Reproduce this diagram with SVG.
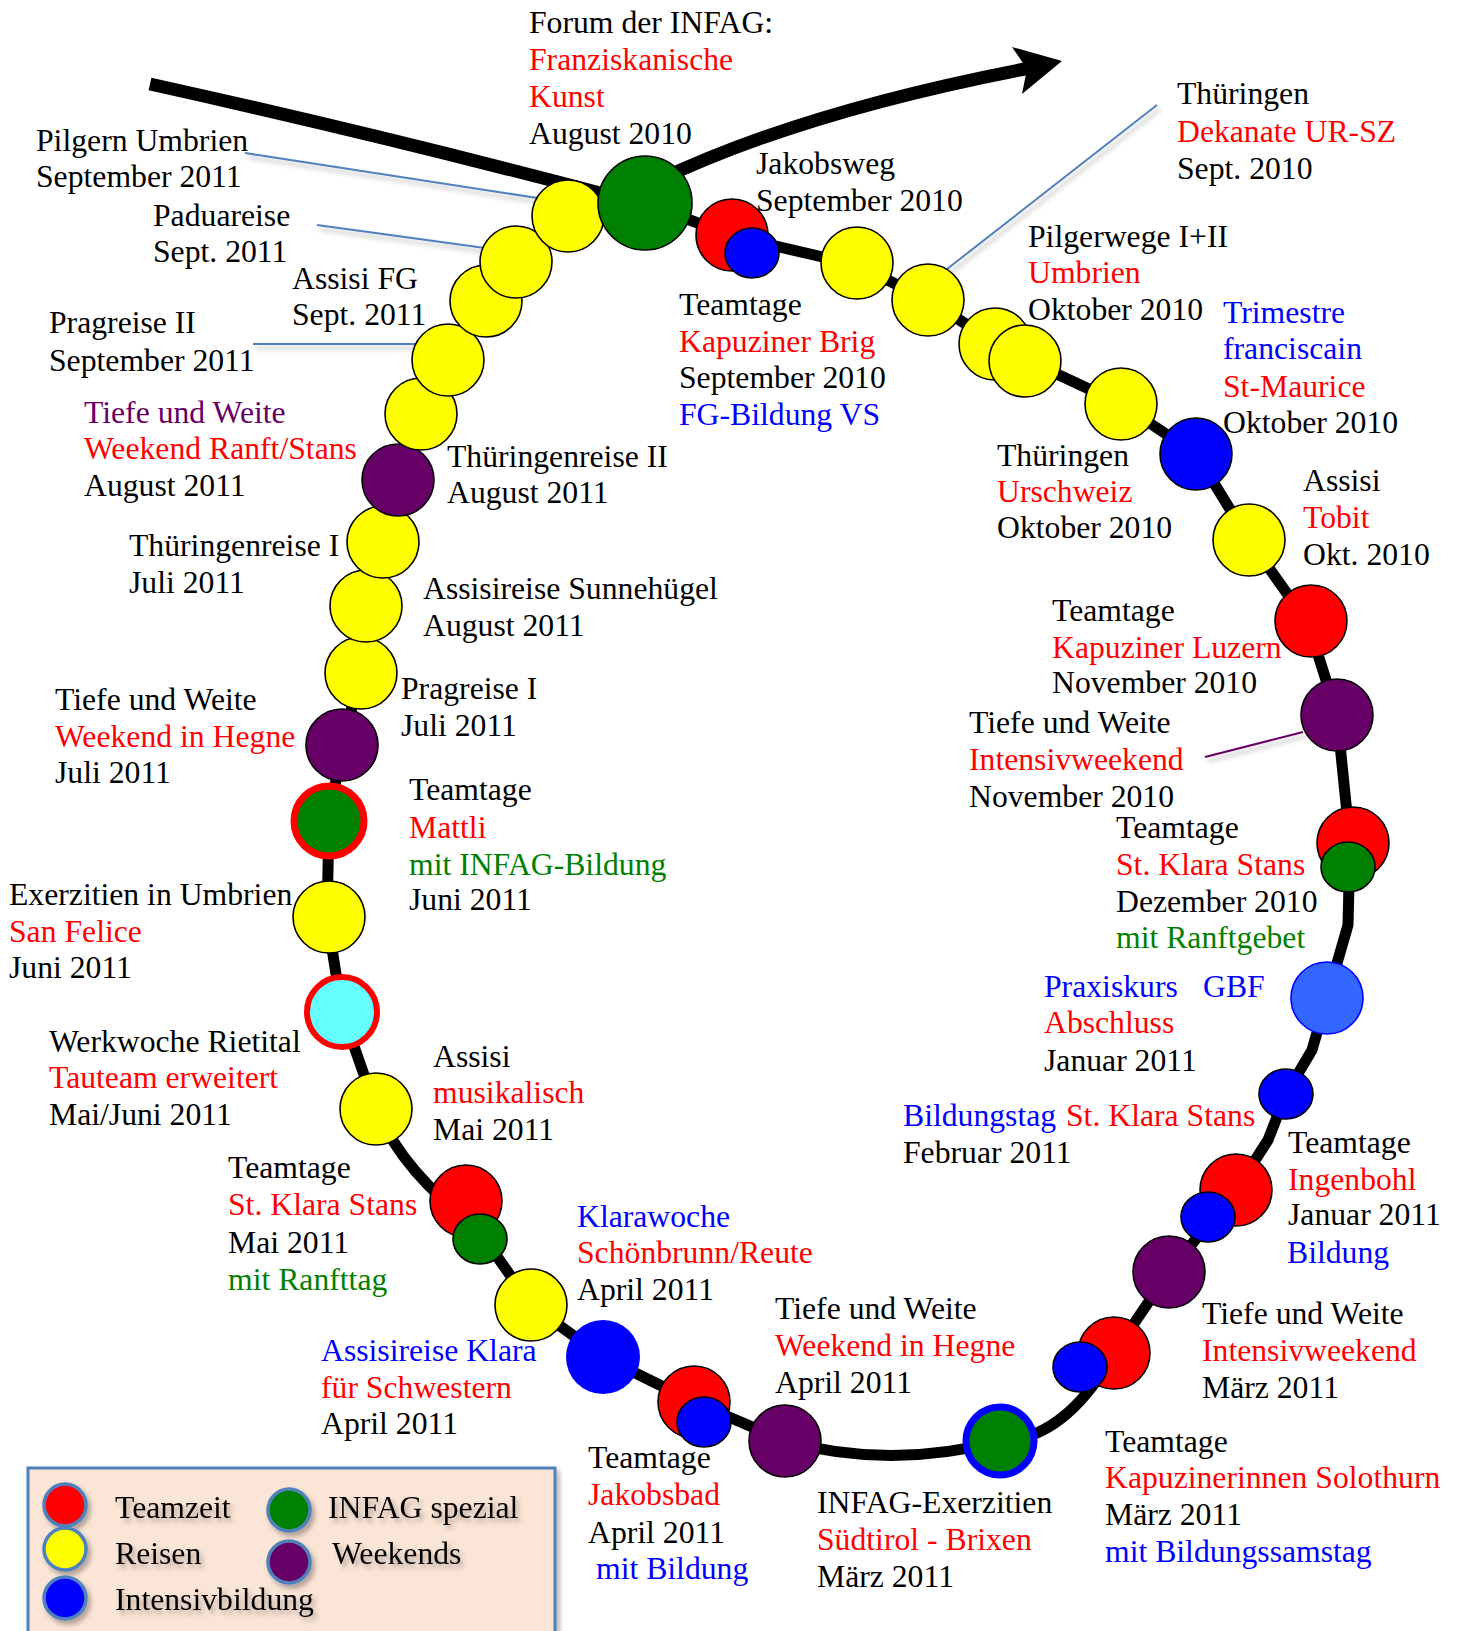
<svg xmlns="http://www.w3.org/2000/svg" width="1459" height="1631" viewBox="0 0 1459 1631">
<defs>
<style>
.t{font-family:"Liberation Serif","Times New Roman",serif;font-size:31.7px;fill:#000}
.r{fill:#FF0000}.b{fill:#0000FF}.g{fill:#008000}.p{fill:#660066}
.cy{fill:#FFFF00;stroke:#000;stroke-width:1.6}
.cr{fill:#FF0000;stroke:#000;stroke-width:1.6}
.cb{fill:#0000FF;stroke:#000;stroke-width:1.6}
.cg{fill:#008000;stroke:#000;stroke-width:1.6}
.cp{fill:#660066;stroke:#000;stroke-width:1.6}
.call{stroke:#4F81BD;stroke-width:2;fill:none}
.leg{stroke:#4F81BD;stroke-width:3.5}
</style>
<filter id="sh" x="-20%" y="-20%" width="140%" height="160%">
<feDropShadow dx="3" dy="4" stdDeviation="2.5" flood-color="#000" flood-opacity="0.3"/>
</filter>
</defs>
<rect width="1459" height="1631" fill="#fff"/>

<g id="connectors">
<path d="M150,84 Q380,135 600,193" stroke="#000" stroke-width="13" fill="none"/>
<path d="M655,182 Q800,112 1030,68" stroke="#000" stroke-width="13" fill="none"/>
<polygon points="1062,61 1012,47 1027,69 1022,94" fill="#000"/>
<path d="M645,203 L732,236 L857,265 L928,300 L1010,352 L1121,404 L1196,454 L1249,540 L1308,623 L1337,715 L1350,843 L1348,925 L1327,998 L1312,1050 L1286,1094 L1268,1140 L1236,1190 L1169,1272 L1114,1353 Q1065,1440 1000,1441 Q890,1470 785,1441 L694,1402 L603,1357 L531,1305 L475,1225 Q405,1175 376,1109 L342,1012 L327,917 L329,821 L342,745 L361,673 L366,606 L383,542 L398,480 L421,414 L448,360 L486,301 L516,262 L568,216 L645,203" stroke="#000" stroke-width="11" fill="none" stroke-linejoin="round"/>
<g filter="url(#sh)">
<line class="call" x1="245" y1="153" x2="557" y2="201"/>
<line class="call" x1="317" y1="225" x2="485" y2="248"/>
<line class="call" x1="253" y1="344" x2="421" y2="344"/>
<line class="call" x1="1157" y1="105" x2="942" y2="273"/>
<line x1="1205" y1="757" x2="1303" y2="732" stroke="#660066" stroke-width="2"/>
</g>
</g>

<g id="n-brig">
<circle class="cr" cx="732" cy="235" r="36"/>
<ellipse class="cb" cx="752" cy="253" rx="27" ry="25"/>
<text class="t" x="679" y="315">Teamtage</text>
<text class="t r" x="679" y="352">Kapuziner Brig</text>
<text class="t" x="679" y="388">September 2010</text>
<text class="t b" x="679" y="425">FG-Bildung VS</text>
</g>
<g id="n-jakobsweg">
<circle class="cy" cx="857" cy="263" r="36"/>
<text class="t" x="756" y="174">Jakobsweg</text>
<text class="t" x="756" y="211">September 2010</text>
</g>
<g id="n-dekanate">
<circle class="cy" cx="928" cy="300" r="36"/>
<text class="t" x="1177" y="104">Thüringen</text>
<text class="t r" x="1177" y="142">Dekanate UR-SZ</text>
<text class="t" x="1177" y="179">Sept. 2010</text>
</g>
<g id="n-pilgerwege">
<circle class="cy" cx="995" cy="344" r="36"/>
<circle class="cy" cx="1025" cy="361" r="36"/>
<text class="t" x="1028" y="247">Pilgerwege I+II</text>
<text class="t r" x="1028" y="283">Umbrien</text>
<text class="t" x="1028" y="320">Oktober 2010</text>
</g>
<g id="n-urschweiz">
<circle class="cy" cx="1121" cy="404" r="36"/>
<text class="t" x="997" y="466">Thüringen</text>
<text class="t r" x="997" y="502">Urschweiz</text>
<text class="t" x="997" y="538">Oktober 2010</text>
</g>
<g id="n-trimestre">
<circle class="cb" cx="1196" cy="454" r="36"/>
<text class="t b" x="1223" y="323">Trimestre</text>
<text class="t b" x="1223" y="359">franciscain</text>
<text class="t r" x="1223" y="397">St-Maurice</text>
<text class="t" x="1223" y="433">Oktober 2010</text>
</g>
<g id="n-tobit">
<circle class="cy" cx="1249" cy="540" r="36"/>
<text class="t" x="1303" y="491">Assisi</text>
<text class="t r" x="1303" y="528">Tobit</text>
<text class="t" x="1303" y="565">Okt. 2010</text>
</g>
<g id="n-luzern">
<circle class="cr" cx="1311" cy="621" r="36"/>
<text class="t" x="1052" y="621">Teamtage</text>
<text class="t r" x="1052" y="658">Kapuziner Luzern</text>
<text class="t" x="1052" y="693">November 2010</text>
</g>
<g id="n-intensiv-nov">
<circle class="cp" cx="1337" cy="715" r="36"/>
<text class="t" x="969" y="733">Tiefe und Weite</text>
<text class="t r" x="969" y="770">Intensivweekend</text>
<text class="t" x="969" y="807">November 2010</text>
</g>
<g id="n-stans-dez">
<circle class="cr" cx="1353" cy="843" r="36"/>
<ellipse class="cg" cx="1348" cy="867" rx="27" ry="25"/>
<text class="t" x="1116" y="838">Teamtage</text>
<text class="t r" x="1116" y="875">St. Klara Stans</text>
<text class="t" x="1116" y="912">Dezember 2010</text>
<text class="t g" x="1116" y="948">mit Ranftgebet</text>
</g>
<g id="n-praxiskurs">
<circle cx="1327" cy="998" r="36" fill="#3366FF" stroke="#0000FF" stroke-width="1.6"/>
<text class="t b" x="1044" y="997">Praxiskurs<tspan x="1203">GBF</tspan></text>
<text class="t r" x="1044" y="1033">Abschluss</text>
<text class="t" x="1044" y="1071">Januar 2011</text>
</g>
<g id="n-bildungstag">
<ellipse class="cb" cx="1286" cy="1094" rx="27" ry="25"/>
<text class="t b" x="903" y="1126">Bildungstag<tspan class="r" x="1066">St. Klara Stans</tspan></text>
<text class="t" x="903" y="1163">Februar 2011</text>
</g>
<g id="n-ingenbohl">
<circle class="cr" cx="1236" cy="1190" r="36"/>
<ellipse class="cb" cx="1208" cy="1217" rx="27" ry="25"/>
<text class="t" x="1288" y="1153">Teamtage</text>
<text class="t r" x="1288" y="1190">Ingenbohl</text>
<text class="t" x="1288" y="1225">Januar 2011</text>
<text class="t b" x="1287" y="1263">Bildung</text>
</g>
<g id="n-intensiv-maerz">
<circle class="cp" cx="1169" cy="1272" r="36"/>
<text class="t" x="1202" y="1324">Tiefe und Weite</text>
<text class="t r" x="1202" y="1361">Intensivweekend</text>
<text class="t" x="1202" y="1398">März 2011</text>
</g>
<g id="n-solothurn">
<circle class="cr" cx="1114" cy="1353" r="36"/>
<ellipse class="cb" cx="1080" cy="1367" rx="27" ry="25"/>
<text class="t" x="1105" y="1452">Teamtage</text>
<text class="t r" x="1105" y="1488">Kapuzinerinnen Solothurn</text>
<text class="t" x="1105" y="1525">März 2011</text>
<text class="t b" x="1105" y="1562">mit Bildungssamstag</text>
</g>
<g id="n-exerzitien-brixen">
<circle cx="1000" cy="1441" r="34" fill="#008000" stroke="#0000FF" stroke-width="7"/>
<text class="t" x="817" y="1513">INFAG-Exerzitien</text>
<text class="t r" x="817" y="1550">Südtirol - Brixen</text>
<text class="t" x="817" y="1587">März 2011</text>
</g>
<g id="n-hegne-april">
<circle class="cp" cx="785" cy="1441" r="36"/>
<text class="t" x="775" y="1319">Tiefe und Weite</text>
<text class="t r" x="775" y="1356">Weekend in Hegne</text>
<text class="t" x="775" y="1393">April 2011</text>
</g>
<g id="n-jakobsbad">
<circle class="cr" cx="694" cy="1402" r="36"/>
<ellipse class="cb" cx="704" cy="1422" rx="27" ry="25"/>
<text class="t" x="588" y="1468">Teamtage</text>
<text class="t r" x="588" y="1505">Jakobsbad</text>
<text class="t" x="588" y="1543">April 2011</text>
<text class="t b" x="596" y="1579">mit Bildung</text>
</g>
<g id="n-assisi-klara">
<circle cx="603" cy="1357" r="37" fill="#0000FF"/>
<text class="t b" x="321" y="1361">Assisireise Klara</text>
<text class="t r" x="321" y="1398">für Schwestern</text>
<text class="t" x="321" y="1434">April 2011</text>
</g>
<g id="n-klarawoche">
<circle class="cy" cx="531" cy="1305" r="36"/>
<text class="t b" x="577" y="1227">Klarawoche</text>
<text class="t r" x="577" y="1263">Schönbrunn/Reute</text>
<text class="t" x="577" y="1300">April 2011</text>
</g>
<g id="n-stans-mai">
<circle class="cr" cx="466" cy="1201" r="36"/>
<ellipse class="cg" cx="480" cy="1239" rx="27" ry="25"/>
<text class="t" x="228" y="1178">Teamtage</text>
<text class="t r" x="228" y="1215">St. Klara Stans</text>
<text class="t" x="228" y="1253">Mai 2011</text>
<text class="t g" x="228" y="1290">mit Ranfttag</text>
</g>
<g id="n-musikalisch">
<circle class="cy" cx="376" cy="1109" r="36"/>
<text class="t" x="433" y="1067">Assisi</text>
<text class="t r" x="433" y="1103">musikalisch</text>
<text class="t" x="433" y="1140">Mai 2011</text>
</g>
<g id="n-werkwoche">
<circle cx="342" cy="1012" r="35" fill="#66FFFF" stroke="#FF0000" stroke-width="6"/>
<text class="t" x="49" y="1052">Werkwoche Rietital</text>
<text class="t r" x="49" y="1088">Tauteam erweitert</text>
<text class="t" x="49" y="1125">Mai/Juni 2011</text>
</g>
<g id="n-sanfelice">
<circle class="cy" cx="329" cy="917" r="36"/>
<text class="t" x="9" y="905">Exerzitien in Umbrien</text>
<text class="t r" x="9" y="942">San Felice</text>
<text class="t" x="9" y="978">Juni 2011</text>
</g>
<g id="n-mattli">
<circle cx="329" cy="821" r="35" fill="#008000" stroke="#FF0000" stroke-width="7"/>
<text class="t" x="409" y="800">Teamtage</text>
<text class="t r" x="409" y="838">Mattli</text>
<text class="t g" x="409" y="875">mit INFAG-Bildung</text>
<text class="t" x="409" y="910">Juni 2011</text>
</g>
<g id="n-hegne-juli">
<circle class="cp" cx="342" cy="745" r="36"/>
<text class="t" x="55" y="710">Tiefe und Weite</text>
<text class="t r" x="55" y="747">Weekend in Hegne</text>
<text class="t" x="55" y="783">Juli 2011</text>
</g>
<g id="n-pragreise1">
<circle class="cy" cx="361" cy="673" r="36"/>
<text class="t" x="401" y="699">Pragreise I</text>
<text class="t" x="401" y="736">Juli 2011</text>
</g>
<g id="n-sunnehuegel">
<circle class="cy" cx="366" cy="606" r="36"/>
<text class="t" x="423" y="599">Assisireise Sunnehügel</text>
<text class="t" x="423" y="636">August 2011</text>
</g>
<g id="n-thueringen1">
<circle class="cy" cx="383" cy="542" r="36"/>
<text class="t" x="129" y="556">Thüringenreise I</text>
<text class="t" x="129" y="593">Juli 2011</text>
</g>
<g id="n-ranft">
<circle class="cp" cx="398" cy="480" r="36"/>
<text class="t p" x="84" y="423">Tiefe und Weite</text>
<text class="t r" x="84" y="459">Weekend Ranft/Stans</text>
<text class="t" x="84" y="496">August 2011</text>
</g>
<g id="n-thueringen2">
<circle class="cy" cx="421" cy="414" r="36"/>
<text class="t" x="447" y="467">Thüringenreise II</text>
<text class="t" x="447" y="503">August 2011</text>
</g>
<g id="n-pragreise2">
<circle class="cy" cx="448" cy="360" r="36"/>
<text class="t" x="49" y="333">Pragreise II</text>
<text class="t" x="49" y="371">September 2011</text>
</g>
<g id="n-assisifg">
<circle class="cy" cx="486" cy="301" r="36"/>
<text class="t" x="292" y="289">Assisi FG</text>
<text class="t" x="292" y="325">Sept. 2011</text>
</g>
<g id="n-padua">
<circle class="cy" cx="516" cy="262" r="36"/>
<text class="t" x="153" y="226">Paduareise</text>
<text class="t" x="153" y="262">Sept. 2011</text>
</g>
<g id="n-pilgern">
<circle class="cy" cx="568" cy="216" r="36"/>
<text class="t" x="36" y="151">Pilgern Umbrien</text>
<text class="t" x="36" y="187">September 2011</text>
</g>
<g id="n-forum">
<circle class="cg" cx="645" cy="203" r="47"/>
<text class="t" x="529" y="33">Forum der INFAG:</text>
<text class="t r" x="529" y="70">Franziskanische</text>
<text class="t r" x="529" y="107">Kunst</text>
<text class="t" x="529" y="144">August 2010</text>
</g>

<g id="legend">
<rect x="28" y="1468" width="527" height="180" fill="#FBE5D6" stroke="#4F81BD" stroke-width="3" filter="url(#sh)"/>
<g filter="url(#sh)">
<circle class="leg" cx="65" cy="1505" r="21" fill="#FF0000"/>
<circle class="leg" cx="65" cy="1549" r="21" fill="#FFFF00"/>
<circle class="leg" cx="65" cy="1598" r="21" fill="#0000FF"/>
<circle class="leg" cx="289" cy="1510" r="21" fill="#008000"/>
<circle class="leg" cx="289" cy="1562" r="21" fill="#660066"/>
<text class="t" x="115" y="1518">Teamzeit</text>
<text class="t" x="115" y="1564">Reisen</text>
<text class="t" x="115" y="1610">Intensivbildung</text>
<text class="t" x="328" y="1518">INFAG spezial</text>
<text class="t" x="332" y="1564">Weekends</text>
</g>
</g>
</svg>
